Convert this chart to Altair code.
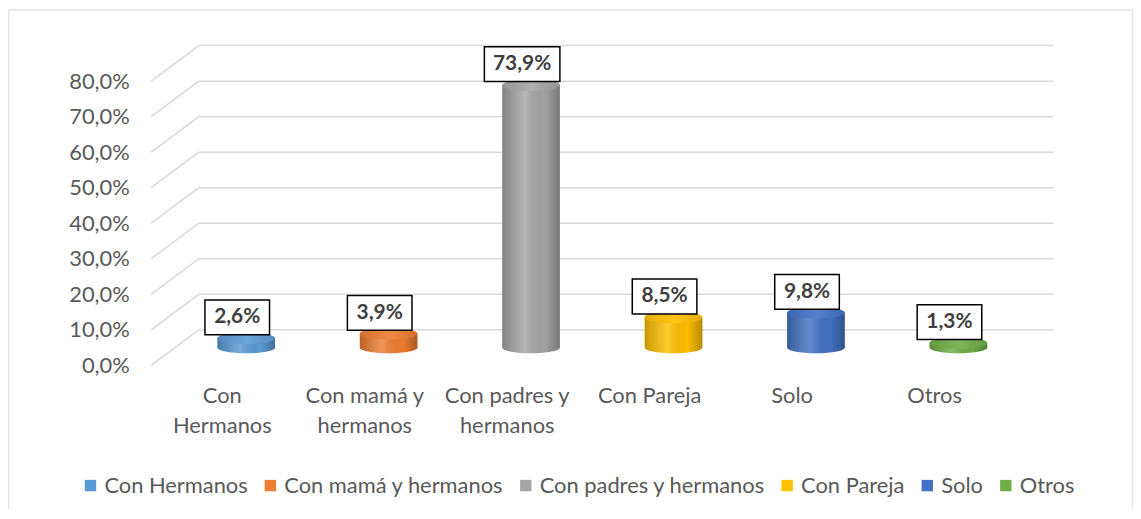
import altair as alt
import pandas as pd

categories = ["Con Hermanos", "Con mamá y hermanos", "Con padres y hermanos",
              "Con Pareja", "Solo", "Otros"]
values = [2.6, 3.9, 73.9, 8.5, 9.8, 1.3]
colors = ["#5B9BD5", "#ED7D31", "#A5A5A5", "#FFC000", "#4472C4", "#70AD47"]
wrapped = [["Con", "Hermanos"], ["Con mamá y", "hermanos"], ["Con padres y", "hermanos"],
           ["Con Pareja"], ["Solo"], ["Otros"]]
ticks = [0, 10, 20, 30, 40, 50, 60, 70, 80]

FONT = "Lato"
GRID = "#d9d9d9"
W, H = 908, 326
DEPTH = 10.0          # depth of the 3-D box, in y units
MID = DEPTH / 2       # bars sit halfway into the box
BARW = 58

labels = [f"{v:.1f}".replace(".", ",") + "%" for v in values]
boxw = [11 * len(s) + 21 for s in labels]
boxh = 35
df = pd.DataFrame({
    "cat": categories,
    "val": values,
    "base": [MID] * len(values),
    "top": [v + MID for v in values],
    "lab": labels,
    "bpath": [f"M -1 {-boxh / w:.4f} L 1 {-boxh / w:.4f} L 1 {boxh / w:.4f} L -1 {boxh / w:.4f} Z" for w in boxw],
    "bsize": [w * w for w in boxw],
})
grid_df = pd.DataFrame({"v": ticks, "vb": [t + DEPTH for t in ticks]})

ellipse = ("M -1 0 C -1 -0.11 -0.552 -0.2 0 -0.2 C 0.552 -0.2 1 -0.11 1 0 "
           "C 1 0.11 0.552 0.2 0 0.2 C -0.552 0.2 -1 0.11 -1 0 Z")

label_map = " : ".join(
    f"datum.label == '{c}' ? {w!r}" for c, w in zip(categories, wrapped)
) + " : datum.label"

yscale = alt.Scale(domain=[0, 91.2], nice=False, zero=True)
xscale = alt.Scale(domain=categories, paddingInner=0, paddingOuter=0.1675, align=0)

X = alt.X("cat:N", scale=xscale, sort=categories,
          axis=alt.Axis(title=None, domain=False, ticks=False, labelAngle=0,
                        labelExpr=label_map, labelBaseline="top", labelPadding=20,
                        labelLineHeight=31, labelFontSize=22, labelColor="#595959",
                        labelFont=FONT, labelLimit=300))
legend = alt.Legend(title=None, orient="none", legendX=-72, legendY=436,
                    direction="horizontal", symbolType="square",
                    symbolSize=132, symbolStrokeWidth=0, symbolOpacity=1,
                    labelFontSize=22, labelColor="#595959", labelFont=FONT,
                    columnPadding=11, labelOffset=3, labelLimit=400)
color = alt.Color("cat:N", scale=alt.Scale(domain=categories, range=colors),
                  sort=categories, legend=legend)

shade = alt.Gradient(gradient="linear", x1=0, x2=1, y1=0, y2=0, stops=[
    alt.GradientStop(offset=0, color="rgba(0,0,0,0.22)"),
    alt.GradientStop(offset=0.4, color="rgba(255,255,255,0.18)"),
    alt.GradientStop(offset=0.75, color="rgba(0,0,0,0.02)"),
    alt.GradientStop(offset=1, color="rgba(0,0,0,0.28)"),
])
topshade = alt.Gradient(gradient="linear", x1=0, x2=1, y1=0, y2=0, stops=[
    alt.GradientStop(offset=0, color="rgba(0,0,0,0.10)"),
    alt.GradientStop(offset=0.5, color="rgba(255,255,255,0.10)"),
    alt.GradientStop(offset=1, color="rgba(0,0,0,0.10)"),
])

one = pd.DataFrame({"k": [0]})
border = alt.Chart(one).mark_rule(color="#e3e3e3", strokeWidth=1.5).encode(
    x=alt.value(-143.5), x2=alt.value(-143.5), y=alt.value(-31.5), y2=alt.value(471))
border_top = alt.Chart(one).mark_rule(color="#e3e3e3", strokeWidth=1.5).encode(
    x=alt.value(-143.5), x2=alt.value(987.5), y=alt.value(-31.5), y2=alt.value(-31.5))
border_right = alt.Chart(one).mark_rule(color="#e3e3e3", strokeWidth=1.5).encode(
    x=alt.value(987.5), x2=alt.value(987.5), y=alt.value(-31.5), y2=alt.value(471))

diag = alt.Chart(grid_df).mark_rule(color=GRID, strokeWidth=1.5).encode(
    x=alt.value(0), x2=alt.value(48),
    y=alt.Y("v:Q", scale=yscale,
            axis=alt.Axis(values=ticks, title=None, domain=False, ticks=False, grid=False,
                          labelExpr="replace(format(datum.value, '.1f'), '.', ',') + '%'",
                          labelFontSize=22, labelColor="#595959", labelFont=FONT,
                          labelPadding=22)),
    y2="vb:Q")
back = alt.Chart(grid_df).mark_rule(color=GRID, strokeWidth=1.5).encode(
    x=alt.value(48), x2=alt.value(W), y=alt.Y("vb:Q", scale=yscale))

base = alt.Chart(df)
bottom = base.mark_point(shape=ellipse, size=BARW * BARW, filled=True, opacity=1,
                         strokeWidth=0, xOffset=24).encode(
    x=X, y=alt.Y("base:Q", scale=yscale), color=color)
bottom_sh = base.mark_point(shape=ellipse, size=BARW * BARW, filled=True, opacity=1,
                            strokeWidth=0, xOffset=24, fill=shade).encode(
    x=X, y=alt.Y("base:Q", scale=yscale))
body = base.mark_bar(width=BARW, xOffset=24).encode(
    x=X, y=alt.Y("top:Q", scale=yscale), y2="base:Q", color=color)
body_sh = base.mark_bar(width=BARW, xOffset=24, color=shade).encode(
    x=X, y=alt.Y("top:Q", scale=yscale), y2="base:Q")
top = base.mark_point(shape=ellipse, size=BARW * BARW, filled=True, opacity=1,
                      strokeWidth=0, xOffset=24).encode(
    x=X, y=alt.Y("top:Q", scale=yscale), color=color)
top_sh = base.mark_point(shape=ellipse, size=BARW * BARW, filled=True, opacity=1,
                         strokeWidth=0, xOffset=24, fill=topshade).encode(
    x=X, y=alt.Y("top:Q", scale=yscale))
box = base.mark_point(filled=True, fill="white", stroke="black", strokeWidth=1.5,
                      opacity=1, xOffset=15, yOffset=-21).encode(
    x=X, y=alt.Y("top:Q", scale=yscale),
    shape=alt.Shape("bpath:N", scale=None),
    size=alt.Size("bsize:Q", scale=None))
txt = base.mark_text(font=FONT, fontWeight="bold", fontSize=21, color="#404040",
                     xOffset=15, yOffset=-21, baseline="middle", align="center").encode(
    x=X, y=alt.Y("top:Q", scale=yscale), text="lab:N")

chart = alt.layer(border, border_top, border_right, diag, back, bottom, bottom_sh, body,
                  body_sh, top, top_sh, box, txt).properties(
    width=W, height=H,
    padding={"left": 144, "top": 32, "right": 80, "bottom": 145},
    autosize=alt.AutoSizeParams(type="none"),
).configure(background="white").configure_view(stroke=None)

chart.save("out.html", embed_options={"renderer": "svg", "actions": False})
